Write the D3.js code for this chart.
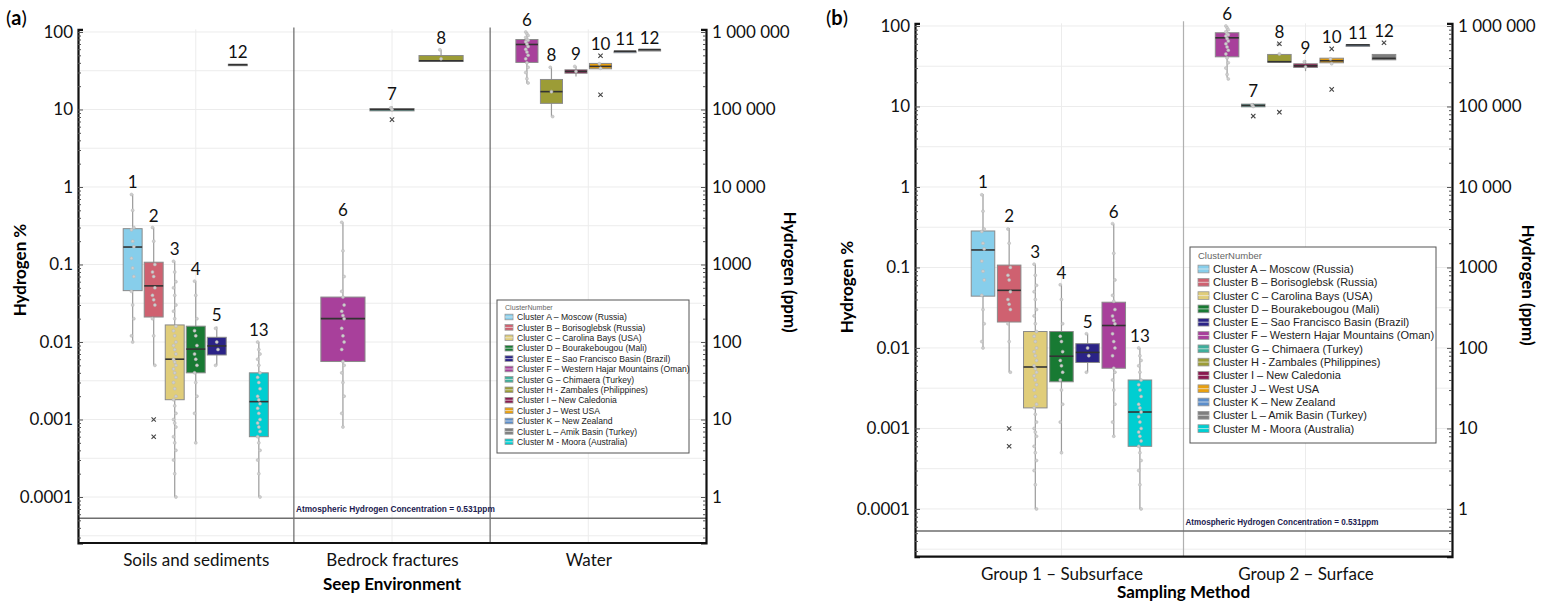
<!DOCTYPE html>
<html>
<head>
<meta charset="utf-8">
<script src="https://cdn.jsdelivr.net/npm/d3@7"></script>
<style>
  body { margin: 0; background: #fff; }
  text { font-family: Lato, "Open Sans", sans-serif; }
</style>
</head>
<body>
<script>
/* DATA */
var clusterIds = ["A","B","C","D","E","F","G","H","I","J","K","L","M"];
var clusterNames = ["Cluster A – Moscow (Russia)", "Cluster B – Borisoglebsk (Russia)",
  "Cluster C – Carolina Bays (USA)", "Cluster D – Bourakebougou (Mali)",
  "Cluster E – Sao Francisco Basin (Brazil)", "Cluster F – Western Hajar Mountains (Oman)",
  "Cluster G – Chimaera (Turkey)", "Cluster H - Zambales (Philippines)",
  "Cluster I – New Caledonia", "Cluster J – West USA", "Cluster K – New Zealand",
  "Cluster L – Amik Basin (Turkey)", "Cluster M - Moora (Australia)"];
var clusterColors = ["#87ceeb","#cf6170","#e0cd7a","#187a33","#2b2387","#a8409b","#3fae9c",
  "#9c9c36","#8a1a4f","#e9a010","#5b8ecb","#7f7f7f","#00ced1"];

var seepCats = ["Soils and sediments", "Bedrock fractures", "Water"];
var methodCats = ["Group 1 – Subsurface", "Group 2 – Surface"];

var decadeTicks = [0.0001, 0.001, 0.01, 0.1, 1, 10, 100];
var atmosphericH2 = 5.31e-5; // 0.531 ppm in %

// [category, cluster, low whisker, q1, median, q3, high whisker]
var seepBoxes = [
  [0,"A",0.01,0.046,0.168,0.29,0.81],
  [0,"B",0.005,0.021,0.053,0.107,0.30],
  [0,"C",0.0001,0.0018,0.006,0.0166,0.11],
  [0,"D",0.0005,0.004,0.0081,0.016,0.061],
  [0,"E",0.005,0.0068,0.0089,0.0115,0.0158],
  [0,"L",37.6,37.6,37.8,38.4,38.4],
  [0,"M",0.0001,0.0006,0.0017,0.004,0.01],
  [1,"F",0.0008,0.0056,0.02,0.038,0.35],
  [1,"G",9.5,9.6,10,10.3,11],
  [1,"H",41.6,41.6,42.5,49.7,59],
  [2,"F",21.6,40.5,69,80,100],
  [2,"H",8.1,12,17,24.4,35],
  [2,"I",26.6,29.4,31,32.5,36.2],
  [2,"J",33.5,33.5,36,39.3,39.3],
  [2,"K",56.5,56.5,56.5,56.5,56.5],
  [2,"L",59.4,59.4,59.4,59.4,59.4]
];
var seepOutliers = [[0,"B",0.001],[0,"B",0.0006],[1,"G",7.4],[2,"J",49.3],[2,"J",15.5]];

var methodBoxes = [
  [0,"A",0.01,0.044,0.165,0.284,0.82],
  [0,"B",0.005,0.021,0.052,0.107,0.31],
  [0,"C",0.0001,0.0018,0.0058,0.016,0.11],
  [0,"D",0.0005,0.0038,0.0079,0.016,0.061],
  [0,"E",0.005,0.0066,0.0088,0.0113,0.015],
  [0,"F",0.0008,0.0056,0.019,0.037,0.35],
  [0,"M",0.0001,0.0006,0.0016,0.004,0.01],
  [1,"F",22.7,41.4,71.3,82.4,100],
  [1,"G",9.9,9.9,10.3,10.7,11],
  [1,"H",35.5,35.5,36,44.3,44.3],
  [1,"I",27.5,30.5,32,33.9,37.6],
  [1,"J",34.9,34.9,37,39.8,39.8],
  [1,"K",58.3,58.3,58.3,58.3,58.3],
  [1,"L",38,38,39.6,44.3,44.3]
];
var methodOutliers = [[0,"B",0.001],[0,"B",0.0006],[1,"G",7.6],[1,"H",60.1],[1,"H",8.5],
  [1,"J",52],[1,"J",16.3],[1,"L",61.9]];

// individual samples (grey dots)
var ptsA = [0.8,0.5,0.3,0.28,0.2,0.17,0.12,0.09,0.07,0.045,0.03,0.02,0.012,0.01];
var ptsB = [0.3,0.2,0.1,0.08,0.07,0.05,0.04,0.035,0.03,0.02,0.012,0.005];
var ptsC = [0.11,0.08,0.06,0.05,0.04,0.03,0.025,0.02,0.016,0.014,0.012,0.01,0.009,0.008,0.007,
  0.006,0.0055,0.005,0.0045,0.004,0.0035,0.003,0.0025,0.002,0.0018,0.0015,0.0012,0.001,0.0009,
  0.0008,0.0006,0.0005,0.0004,0.0003,0.0002,0.0001];
var ptsD = [0.061,0.04,0.02,0.014,0.012,0.009,0.007,0.006,0.005,0.004,0.003,0.002,0.0012,0.0005];
var ptsE = [0.015,0.01,0.008,0.005];
var ptsM = [0.01,0.008,0.007,0.006,0.005,0.004,0.0035,0.003,0.0025,0.002,0.0018,0.0016,0.0014,
  0.0012,0.001,0.0009,0.0008,0.0007,0.0006,0.0005,0.0004,0.0003,0.0002,0.0001];
var ptsFrock = [0.35,0.15,0.07,0.045,0.038,0.03,0.025,0.022,0.02,0.015,0.012,0.01,0.008,0.0056,
  0.005,0.004,0.003,0.002,0.0012,0.0008];
var ptsFwater = [100,95,90,85,80,78,75,70,65,60,55,50,45,40,35,30,25,22];
var ptsG = [10.5,10];
var ptsHrock = [59,45];
var ptsHwater = [35,17,8.1];
var ptsI = [36,31];
var ptsJ = [39,34];

var seepPoints = {"0A":ptsA,"0B":ptsB,"0C":ptsC,"0D":ptsD,"0E":ptsE,"0M":ptsM,"1F":ptsFrock,
  "1G":ptsG,"1H":ptsHrock,"2F":ptsFwater,"2H":ptsHwater,"2I":ptsI,"2J":ptsJ};
var methodPoints = {"0A":ptsA,"0B":ptsB,"0C":ptsC,"0D":ptsD,"0E":ptsE,"0F":ptsFrock,"0M":ptsM,
  "1F":ptsFwater,"1G":ptsG,"1H":ptsHrock,"1I":ptsI,"1J":ptsJ};

/* SVG */
var svg = d3.select("body").append("svg")
    .attr("width", 1543)
    .attr("height", 602);

function ppmFormat(v) {
  var p = Math.round(v * 10000);
  if (p >= 10000) return d3.format(",")(p).replace(/,/g, " ");
  return String(p);
}
function pctFormat(v) {
  return v >= 1 ? String(v) : String(+v.toPrecision(1));
}

function drawPanel(cfg) {
  var g = svg.append("g");
  var x = d3.scalePoint().domain(d3.range(cfg.cats.length)).range([cfg.x0, cfg.x1]).padding(0.6);
  var y = d3.scaleLog().domain([2.55e-5, 108]).range([cfg.bottom, cfg.top]);
  var step = x.step(), dodge = step * 0.75;

  // grid
  var grid = [];
  for (var k = -5; k <= 2; k++) { grid.push(Math.pow(10, k)); grid.push(Math.pow(10, k + 0.5)); }
  grid = grid.filter(function(v) { return v > y.domain()[0] && v <= y.domain()[1]; });
  g.append("g").selectAll("line").data(grid).enter().append("line")
      .attr("x1", cfg.x0).attr("x2", cfg.x1)
      .attr("y1", function(d) { return y(d); }).attr("y2", function(d) { return y(d); })
      .attr("stroke", "#ececec").attr("stroke-width", 1);
  g.append("g").selectAll("line").data(x.domain()).enter().append("line")
      .attr("x1", function(d) { return x(d); }).attr("x2", function(d) { return x(d); })
      .attr("y1", cfg.top).attr("y2", cfg.bottom)
      .attr("stroke", "#ececec").attr("stroke-width", 1);

  // category separators
  var seps = x.domain().slice(1).map(function(i) { return x(i) - step / 2; });
  g.append("g").selectAll("line").data(seps).enter().append("line")
      .attr("x1", function(d) { return d; }).attr("x2", function(d) { return d; })
      .attr("y1", cfg.top - 2).attr("y2", cfg.bottom)
      .attr("stroke", cfg.sepColor).attr("stroke-width", 1.2);

  // atmospheric hydrogen line
  g.append("line")
      .attr("x1", cfg.x0).attr("x2", cfg.x1)
      .attr("y1", y(atmosphericH2)).attr("y2", y(atmosphericH2))
      .attr("stroke", "#6e6e6e").attr("stroke-width", 1.5);
  g.append("text")
      .attr("x", seps[0] + 2).attr("y", y(atmosphericH2) - 6)
      .attr("textLength", cfg.atmLen).attr("lengthAdjust", "spacingAndGlyphs")
      .style("font-family", "'Liberation Sans Narrow', 'Liberation Sans', sans-serif")
      .style("font-size", cfg.atmSize + "px").style("font-weight", "bold")
      .attr("fill", "#1c1c50")
      .text("Atmospheric Hydrogen Concentration = 0.531ppm");

  // slot positions
  var slotX = function(row) {
    var same = cfg.boxes.filter(function(b) { return b[0] === row[0]; });
    var i = same.indexOf(row), slot = dodge / same.length;
    return { cx: x(row[0]) - dodge / 2 + slot * (i + 0.5), w: slot * 0.9 };
  };

  cfg.boxes.forEach(function(row) {
    var p = slotX(row), ci = clusterIds.indexOf(row[1]);
    var bg = g.append("g");
    bg.append("line")
        .attr("x1", p.cx).attr("x2", p.cx)
        .attr("y1", y(row[2])).attr("y2", y(row[6]))
        .attr("stroke", "#9a9a9a").attr("stroke-width", 1.2);
    bg.append("rect")
        .attr("x", p.cx - p.w / 2).attr("width", p.w)
        .attr("y", y(row[5])).attr("height", Math.max(1.5, y(row[3]) - y(row[5])))
        .attr("fill", clusterColors[ci])
        .attr("stroke", "#8a8a8a").attr("stroke-width", 1);
    bg.append("line")
        .attr("x1", p.cx - p.w / 2).attr("x2", p.cx + p.w / 2)
        .attr("y1", y(row[4])).attr("y2", y(row[4]))
        .attr("stroke", "#333").attr("stroke-width", 1.6);

    var pts = cfg.points[row[0] + row[1]] || [];
    bg.selectAll("circle").data(pts).enter().append("circle")
        .attr("cx", function(d, i) { return p.cx + (i % 3 - 1) * 1.2; })
        .attr("cy", function(d) { return y(d); })
        .attr("r", 1.5)
        .attr("fill", "#cfcfcf").attr("stroke", "#b5b5b5").attr("stroke-width", 0.5);

    var outs = cfg.outs.filter(function(o) { return o[0] === row[0] && o[1] === row[1]; });
    bg.selectAll("path.out").data(outs).enter().append("path")
        .attr("class", "out")
        .attr("d", d3.symbol(d3.symbolX, 14))
        .attr("transform", function(o) { return "translate(" + p.cx + "," + y(o[2]) + ")"; })
        .attr("stroke", "#444").attr("stroke-width", 1.1).attr("fill", "none");

    var topV = d3.max([row[6]].concat(outs.map(function(o) { return o[2]; })));
    bg.append("text")
        .attr("x", p.cx).attr("y", y(topV) - 6)
        .attr("text-anchor", "middle")
        .style("font-size", "17px").attr("fill", "#111")
        .text(ci + 1);
  });

  // axes
  var minors = [];
  for (var e = -5; e <= 2; e++) for (var m = 2; m <= 9; m++) minors.push(m * Math.pow(10, e));
  minors = minors.filter(function(v) { return v > y.domain()[0] && v < y.domain()[1]; });

  var left = g.append("g").attr("transform", "translate(" + cfg.x0 + ",0)")
      .call(d3.axisLeft(y).tickValues(decadeTicks).tickSize(-5).tickPadding(5).tickFormat(pctFormat));
  g.append("g").attr("transform", "translate(" + cfg.x0 + ",0)")
      .call(d3.axisLeft(y).tickValues(minors).tickSize(-3).tickFormat(""))
      .select(".domain").remove();
  var right = g.append("g").attr("transform", "translate(" + cfg.x1 + ",0)")
      .call(d3.axisRight(y).tickValues(decadeTicks).tickSize(-5).tickPadding(6).tickFormat(ppmFormat));
  g.append("g").attr("transform", "translate(" + cfg.x1 + ",0)")
      .call(d3.axisRight(y).tickValues(minors).tickSize(-3).tickFormat(""))
      .select(".domain").remove();
  var bottom = g.append("g").attr("transform", "translate(0," + cfg.bottom + ")")
      .call(d3.axisBottom(x).tickSize(0).tickPadding(11).tickFormat(function(i) { return cfg.cats[i]; }));
  bottom.select(".domain").attr("d", "M" + cfg.x0 + ",0H" + cfg.x1);

  [left, right, bottom].forEach(function(a) {
    a.select(".domain").attr("stroke", "#111").attr("stroke-width", 2.2);
    a.selectAll("text").style("font-size", "17px").style("font-family", "Lato, sans-serif").attr("fill", "#111");
  });
  g.selectAll(".tick line").attr("stroke", "#555");

  // titles
  g.append("text")
      .attr("transform", "translate(" + cfg.ltX + "," + cfg.ltY + ") rotate(-90)")
      .attr("text-anchor", "middle").style("font-size", "17px").style("font-weight", "bold")
      .text("Hydrogen %");
  g.append("text")
      .attr("transform", "translate(" + cfg.rtX + "," + cfg.rtY + ") rotate(90)")
      .attr("text-anchor", "middle").style("font-size", "17px").style("font-weight", "bold")
      .text("Hydrogen (ppm)");
  g.append("text")
      .attr("x", (x(0) + x(cfg.cats.length - 1)) / 2).attr("y", cfg.xtY)
      .attr("text-anchor", "middle").style("font-size", "17px").style("font-weight", "bold")
      .text(cfg.xTitle);
  var tag = g.append("text").attr("x", cfg.tagX).attr("y", 25).style("font-size", "20px");
  tag.append("tspan").text("(");
  tag.append("tspan").style("font-weight", "bold").text(cfg.tag);
  tag.append("tspan").text(")");

  // legend
  var L = cfg.legend;
  var lg = g.append("g").attr("transform", "translate(" + L.x + "," + L.y + ")");
  lg.append("rect").attr("width", L.w).attr("height", L.h)
      .attr("fill", "#fff").attr("stroke", "#555").attr("stroke-width", 1);
  lg.append("text").attr("x", L.pad).attr("y", L.fs + 1)
      .style("font-family", "'Liberation Sans', Arial, sans-serif")
      .style("font-size", (L.fs - 1.5) + "px").attr("fill", "#666").text("ClusterNumber");
  var items = lg.selectAll("g.item").data(clusterNames).enter().append("g")
      .attr("class", "item")
      .attr("transform", function(d, i) { return "translate(" + L.pad + "," + (L.first + i * L.gap) + ")"; });
  items.append("rect").attr("x", 0).attr("y", -L.sw * 0.35).attr("width", L.sw).attr("height", L.sw * 0.7)
      .attr("fill", function(d, i) { return clusterColors[i]; })
      .attr("stroke", "#999").attr("stroke-width", 0.8);
  items.append("line").attr("x1", 0).attr("x2", L.sw).attr("y1", 0).attr("y2", 0)
      .attr("stroke", "#eee").attr("stroke-width", 0.7);
  items.append("text").attr("x", L.sw + 4).attr("y", L.fs * 0.36)
      .style("font-family", "'Liberation Sans', Arial, sans-serif")
      .style("font-size", L.fs + "px").attr("fill", "#222")
      .text(function(d) { return d; });
}

drawPanel({
  cats: seepCats, boxes: seepBoxes, outs: seepOutliers, points: seepPoints,
  x0: 78, x1: 706, top: 29.4, bottom: 543, sepColor: "#666",
  atmLen: 199, atmSize: 9,
  ltX: 26, ltY: 270, rtX: 784, rtY: 272, xtY: 590, xTitle: "Seep Environment",
  tag: "a", tagX: 6,
  legend: { x: 497, y: 300, w: 192, h: 153, pad: 8, fs: 8.6, first: 17, gap: 10.4, sw: 8 }
});
drawPanel({
  cats: methodCats, boxes: methodBoxes, outs: methodOutliers, points: methodPoints,
  x0: 915, x1: 1452, top: 23.3, bottom: 556.7, sepColor: "#b0b0b0",
  atmLen: 193, atmSize: 9.5,
  ltX: 853, ltY: 287, rtX: 1522, rtY: 285, xtY: 598, xTitle: "Sampling Method",
  tag: "b", tagX: 826,
  legend: { x: 1190, y: 247, w: 246, h: 196, pad: 8, fs: 11, first: 22, gap: 13.3, sw: 11 }
});
</script>
</body>
</html>
